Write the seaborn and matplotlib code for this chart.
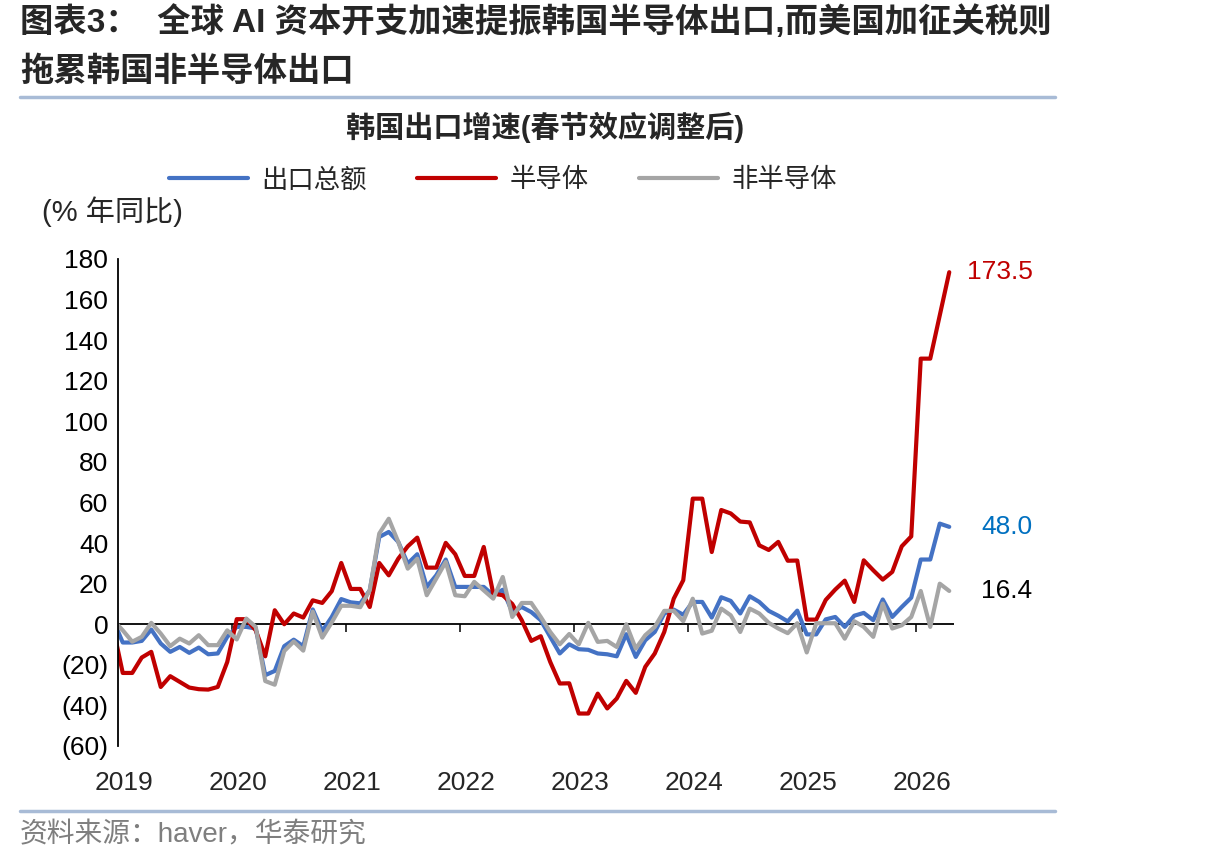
import numpy as np
import pandas as pd
import matplotlib.pyplot as plt
import seaborn as sns
from matplotlib.lines import Line2D
from matplotlib.ticker import FuncFormatter

# monthly, Dec 2018 .. Apr 2026 (Jan/Feb LNY-adjusted)
months = pd.period_range('2018-12', '2026-04', freq='M')

total = [2, -9, -9, -8.2, -2.6, -9.5, -13.6, -11.2, -14.1, -11.5, -14.8, -14.4, -6.2,
         -1.3, -1.3, -2.1, -25.1, -23, -10.8, -7.6, -10.8, 7.3, -3.4, 3.6, 12.4,
         10.8, 10.3, 16.7, 43, 45.5, 40.6, 29.9, 34.5, 18.4, 24.1, 31.9, 18.4,
         18.4, 18.4, 18.4, 14.3, 17, 6, 8.5, 6, 2, -6.2, -14.4, -9.9,
         -12.3, -12.6, -14.4, -14.8, -15.8, -4.9, -16.1, -7.9, -3.8, 5.3, 7.2, 4.7,
         11, 11, 3.3, 13.3, 11.5, 5.3, 13.8, 11, 6.6, 4.2, 1.4, 6.7,
         -5, -5, 2.4, 3.6, -1.3, 4.2, 5.6, 2, 12.2, 3.6, 8.5, 13.1,
         31.9, 31.9, 49.6, 48.0]
semi = [-2, -24, -24, -16.4, -13.6, -30.9, -25.6, -28.4, -31.2, -32, -32.2, -30.9, -18.6,
        2.5, 2.5, -3, -15.8, 6.9, 0, 5.3, 3.3, 11.8, 10.5, 16.3, 30.2,
        17.4, 17.4, 8.5, 30.2, 24.1, 32.3, 38.4, 42.7, 27.9, 27.9, 40.1, 34.5,
        23.8, 23.8, 38.1, 15.1, 14.3, 10, 2, -8.2, -5.9, -18.6, -29.2, -29.1,
        -44, -44, -34.2, -41.5, -36.6, -27.9, -33.8, -21, -14.4, -3.8, 12.6, 21.7,
        61.9, 61.9, 35.6, 56.3, 54.6, 50.6, 50.2, 38.9, 36.6, 40.6, 31.3, 31.4,
        2.3, 2.3, 12, 17.1, 21.5, 11, 31.5, 26.6, 22, 25.8, 38.4, 43.3,
        130.9, 130.9, 152.2, 173.5]
non_semi = [2, -3, -8.6, -6.2, 0.7, -4.6, -10.8, -7.1, -9.5, -5.4, -10.3, -10.3, -3,
            -7.5, 2.8, -1.3, -28, -29.8, -13.2, -8.5, -13, 6.2, -6.6, 0.9, 9.1,
            9.1, 8.4, 16.7, 44.7, 52, 40.6, 27.4, 32.3, 14.3, 22.5, 30.7, 14.3,
            13.8, 20.9, 16.7, 12.6, 23.3, 3.6, 10.5, 10.5, 3.6, -3.8, -9.9, -4.8,
            -9.9, 0.7, -8.7, -8.2, -11.2, 0, -12, -5.4, -1.3, 6.6, 6.6, 1.5,
            12.6, -4.6, -3.2, 7.7, 4.4, -3.8, 7.7, 5.3, 0.7, -2.1, -4.4, 0.5,
            -13.9, 0.5, 0.5, 0.5, -7.1, 1.5, -1.3, -6.2, 10.2, -2.1, -0.5, 3.6,
            16.4, -1.3, 20, 16.4]

series_names = ['出口总额', '半导体', '非半导体']
colors = ['#4472C4', '#C00000', '#A5A5A5']
label_colors = ['#0070C0', '#C00000', 'black']
year_labels = ['2019', '2020', '2021', '2022', '2023', '2024', '2025', '2026']
y_ticks = list(range(-60, 181, 20))

# x = months since Jan 2019, point at mid-month
x = (months.year - 2019) * 12 + (months.month - 1) + 0.5
df = pd.DataFrame({
    'x': np.tile(np.asarray(x, dtype=float), 3),
    'value': total + semi + non_semi,
    'series': np.repeat(series_names, len(months)),
})

sns.set_style('white')
plt.rcParams['font.family'] = ['Liberation Sans', 'Noto Sans CJK SC']

fig = plt.figure(figsize=(12.06, 8.66), dpi=100)
ax = fig.add_axes([118 / 1206, 1 - 746 / 866, (954 - 118) / 1206, (746 - 259) / 866])

sns.lineplot(data=df, x='x', y='value', hue='series', hue_order=series_names,
             palette=colors, linewidth=3, ax=ax)

ax.set_xlim(0, 88)
ax.set_ylim(-60, 180)
ax.set_xlabel('')
ax.set_ylabel('')
for s in ['top', 'right', 'bottom']:
    ax.spines[s].set_visible(False)
ax.spines['left'].set_color('black')
ax.spines['left'].set_linewidth(1.3)

ax.set_yticks(y_ticks)
ax.yaxis.set_major_formatter(FuncFormatter(lambda v, _: f'({abs(int(v))})' if v < 0 else f'{int(v)}'))
ax.tick_params(axis='y', direction='out', length=6, width=1.3, labelsize=19, pad=1, colors='black')

ax.set_xticks([12 * i + 0.6 for i in range(len(year_labels))], labels=year_labels)
ax.tick_params(axis='x', length=0, labelsize=19, pad=18)

# zero line with year ticks
ax.axhline(0, color='black', lw=1.3, zorder=1)
sec = ax.secondary_xaxis(0.25)
sec.set_xticks(range(12, 85, 12))
sec.tick_params(direction='out', length=6, width=1.3, labelbottom=False)
sec.spines['bottom'].set_visible(False)

handles, labels = ax.get_legend_handles_labels()
ax.legend(handles, labels, loc='center', bbox_to_anchor=(503 / 1206, 1 - 180 / 866),
          bbox_transform=fig.transFigure, ncol=3, frameon=False, fontsize=19,
          handlelength=3, handletextpad=0.5, columnspacing=1.9)

for vals, c in zip([total, semi, non_semi], label_colors):
    ax.annotate(f'{vals[-1]:.1f}', xy=(x[-1], vals[-1]), xytext=(60, 0),
                textcoords='offset points', ha='right', va='center', color=c, fontsize=19)

fig.text(20 / 1206, 1 - 22 / 866, '图表3：  全球 AI 资本开支加速提振韩国半导体出口,而美国加征关税则',
         fontsize=24, weight='bold', va='center')
fig.text(20 / 1206, 1 - 72 / 866, '拖累韩国非半导体出口', fontsize=24, weight='bold', va='center')
fig.text(545 / 1206, 1 - 127 / 866, '韩国出口增速(春节效应调整后)', fontsize=21, weight='bold',
         ha='center', va='center')
fig.text(42 / 1206, 1 - 212 / 866, '(% 年同比)', fontsize=21, va='center')
fig.text(20 / 1206, 1 - 835 / 866, '资料来源：haver，华泰研究', fontsize=20, color='#7F7F7F', va='center')

for yy in [97, 811]:
    fig.add_artist(Line2D([20 / 1206, 1055 / 1206], [1 - yy / 866] * 2, color='#A8BBD6', lw=2.5))

fig.savefig('out.png', dpi=100, facecolor='white')
